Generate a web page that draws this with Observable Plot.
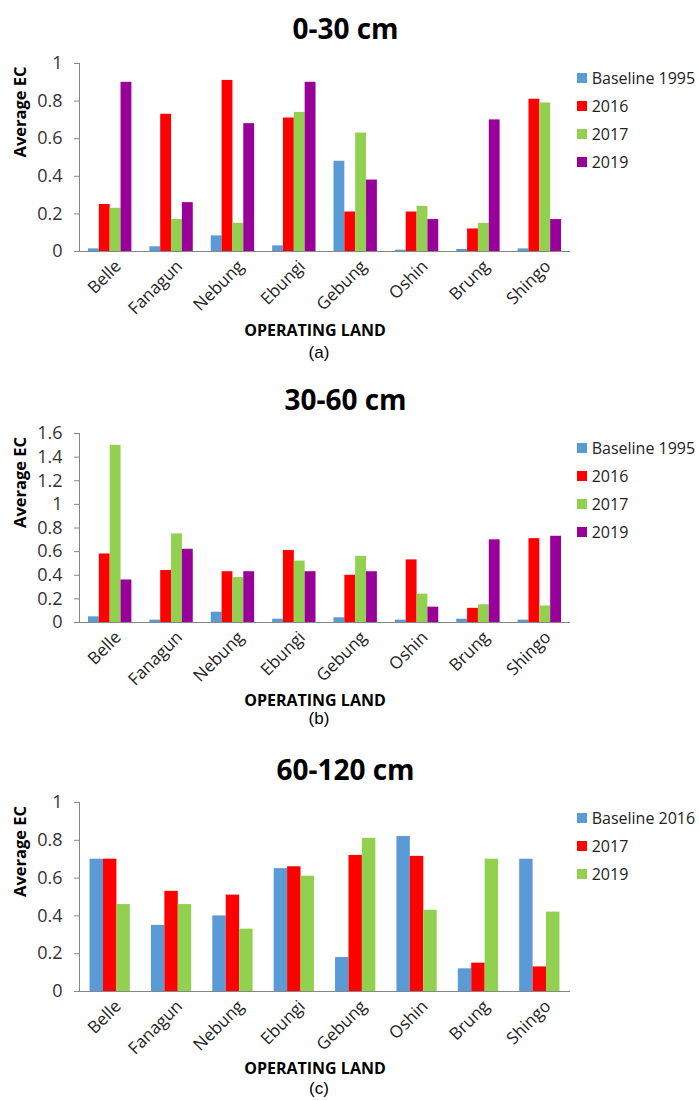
<!DOCTYPE html>
<html>
<head>
<meta charset="utf-8">
<script src="https://cdn.jsdelivr.net/npm/d3@7"></script>
<script src="https://cdn.jsdelivr.net/npm/@observablehq/plot@0.6"></script>
<style>
  html, body { margin: 0; padding: 0; background: #fff; }
  #root { position: relative; width: 699px; height: 1100px; background: #fff; overflow: hidden; }
  #root > .panel { position: absolute; left: 0; }
  #root > .legend { position: absolute; }
  .lg-swatch { height: 27.8px; box-sizing: border-box; padding-bottom: 0 !important; margin: 0; }
  .lg-swatch > svg { margin-right: 5px !important; }
</style>
</head>
<body>
<div id="root"></div>
<script>
// ---- data ----
const categories = ["Belle", "Fanagun", "Nebung", "Ebungi", "Gebung", "Oshin", "Brung", "Shingo"];

const seriesA = ["Baseline 1995", "2016", "2017", "2019"];
const a_baseline1995 = [0.014, 0.025, 0.083, 0.03, 0.48, 0.007, 0.011, 0.014];
const a_2016 = [0.25, 0.73, 0.91, 0.71, 0.21, 0.21, 0.12, 0.81];
const a_2017 = [0.23, 0.17, 0.15, 0.74, 0.63, 0.24, 0.15, 0.79];
const a_2019 = [0.90, 0.26, 0.68, 0.90, 0.38, 0.17, 0.70, 0.17];

const seriesB = ["Baseline 1995", "2016", "2017", "2019"];
const b_baseline1995 = [0.048, 0.02, 0.087, 0.028, 0.04, 0.02, 0.028, 0.02];
const b_2016 = [0.58, 0.44, 0.43, 0.61, 0.40, 0.53, 0.12, 0.71];
const b_2017 = [1.50, 0.75, 0.38, 0.52, 0.56, 0.24, 0.15, 0.14];
const b_2019 = [0.36, 0.62, 0.43, 0.43, 0.43, 0.13, 0.70, 0.73];

const seriesC = ["Baseline 2016", "2017", "2019"];
const c_baseline2016 = [0.70, 0.35, 0.40, 0.65, 0.18, 0.82, 0.12, 0.70];
const c_2017 = [0.70, 0.53, 0.51, 0.66, 0.72, 0.715, 0.15, 0.13];
const c_2019 = [0.46, 0.46, 0.33, 0.61, 0.81, 0.43, 0.70, 0.42];

const colors4 = ["#5B9BD5", "#FF0000", "#92D050", "#990099"];
const colors3 = ["#5B9BD5", "#FF0000", "#92D050"];

const root = document.getElementById("root");

function panel(cfg) {
  const {top, height, marginTop, marginBottom, yMax, series, values, colors,
         title, caption, groupFrac, titleDy, labelDy, captionDy, legendTop} = cfg;
  const n = series.length;
  const w = groupFrac / n, pad = (1 - groupFrac) / 2;
  const rows = [];
  series.forEach((s, si) => categories.forEach((c, ci) =>
    rows.push({c, ci, s, si, v: values[si][ci]})));
  const yTicks = d3.range(0, yMax + 1e-9, 0.2);
  const plot = Plot.plot({
    width: 699, height, marginTop, marginBottom, marginLeft: 79, marginRight: 129,
    style: {fontFamily: "'Open Sans', sans-serif", background: "transparent", overflow: "visible"},
    x: {domain: [0, categories.length], axis: null},
    y: {domain: [0, yMax], axis: null},
    color: {domain: series, range: colors},
    marks: [
      Plot.rectY(rows, {
        x1: d => d.ci + pad + d.si * w,
        x2: d => d.ci + pad + (d.si + 1) * w,
        y: "v", fill: "s"
      }),
      Plot.ruleX([0], {stroke: "#868686"}),
      Plot.ruleY([0], {stroke: "#868686"}),
      Plot.axisY({ticks: yTicks, tickSize: 5, tickPadding: 12,
        tickFormat: d => String(+d.toFixed(1)),
        stroke: "#868686", fill: "#333", fontSize: 18, label: null}),
      Plot.axisX({ticks: categories.map((c, i) => i + 0.5),
        tickFormat: d => categories[Math.floor(d)],
        tickRotate: -45, tickSize: 0, tickPadding: 12, dx: 8,
        fontSize: 17, fill: "#222", label: null}),
      Plot.text([title], {frameAnchor: "top", lineAnchor: "middle", dx: 20.5, dy: titleDy, fontSize: 28, fontWeight: "bold"}),
      Plot.text(["Average EC"], {frameAnchor: "left", lineAnchor: "middle", dx: -59, rotate: -90, fontWeight: "bold", fontSize: 16.5}),
      Plot.text(["OPERATING LAND"], {frameAnchor: "bottom", lineAnchor: "middle", dx: -10, dy: labelDy, fontWeight: "bold", fontSize: 16}),
      Plot.text([caption], {frameAnchor: "bottom", lineAnchor: "middle", dx: -6, dy: captionDy, fontSize: 17,
        fontFamily: "'Liberation Sans', Arial, sans-serif"})
    ]
  });
  plot.classList.add("panel");
  plot.style.top = top + "px";
  root.appendChild(plot);

  const legend = plot.legend("color", {
    legend: "swatches", columns: 1, swatchSize: 10, className: "lg",
    style: {fontFamily: "'Open Sans', sans-serif", fontSize: "16px", color: "#222", margin: 0}
  });
  legend.classList.add("legend");
  legend.style.position = "absolute";
  legend.style.left = "576.7px";
  legend.style.top = legendTop + "px";
  root.appendChild(legend);
}

panel({
  top: 0, height: 365, marginTop: 63, marginBottom: 114, yMax: 1,
  series: seriesA, values: [a_baseline1995, a_2016, a_2017, a_2019], colors: colors4,
  title: "0-30 cm", caption: "(a)", groupFrac: 0.707,
  titleDy: -33, labelDy: 79, captionDy: 101, legendTop: 64.4
});
panel({
  top: 365, height: 370, marginTop: 68, marginBottom: 113, yMax: 1.6,
  series: seriesB, values: [b_baseline1995, b_2016, b_2017, b_2019], colors: colors4,
  title: "30-60 cm", caption: "(b)", groupFrac: 0.707,
  titleDy: -32, labelDy: 78, captionDy: 96, legendTop: 434.4
});
panel({
  top: 735, height: 365, marginTop: 67, marginBottom: 109, yMax: 1,
  series: seriesC, values: [c_baseline2016, c_2017, c_2019], colors: colors3,
  title: "60-120 cm", caption: "(c)", groupFrac: 0.656,
  titleDy: -31, labelDy: 77, captionDy: 97, legendTop: 804.4
});
</script>
</body>
</html>
